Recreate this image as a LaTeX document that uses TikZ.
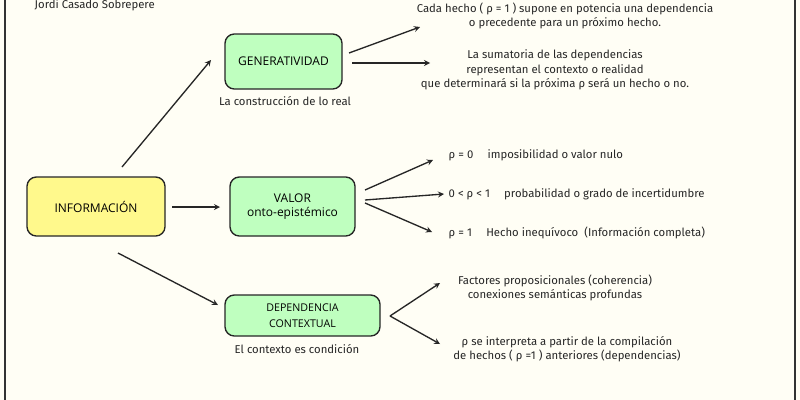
\documentclass[tikz,border=0pt]{standalone}
\usepackage{fontspec}
\setmainfont{Fira Sans}
\newfontfamily\boxfont{Open Sans}
\begin{document}
\begin{tikzpicture}[x=0.75pt,y=-0.75pt,
 box/.style={draw=black!85,line width=1pt,rounded corners=7pt,font=\boxfont\fontsize{9}{11}\selectfont,align=center,inner sep=0pt},
 note/.style={font=\fontsize{8.5}{11}\selectfont,align=center,text=black!85},
 arr/.style={->,>=stealth,line width=1pt,black!85}]
\fill[yellow!4!white] (0,0) rectangle (800,400);
\useasboundingbox (0,0) rectangle (800,400);
\draw[black!80,line width=1pt] (5,-5) -- (5,405) (795,-5) -- (795,405);
\node[note,anchor=west] (t) at (30,5) {Jordi Casado Sobrepere};
\node[box,fill=green!25!white,minimum width=87.75pt,minimum height=41.25pt] (g) at (283.5,61.5) {GENERATIVIDAD};
\node[note] (gl) at (285,101) {La construcción de lo real};
\node[box,fill=yellow!45!white,minimum width=103.5pt,minimum height=44.25pt] (i) at (96,206.5) {INFORMACIÓN};
\node[box,fill=green!25!white,minimum width=93.75pt,minimum height=44.25pt] (v) at (292.5,206.5) {VALOR\\onto-epistémico};
\node[box,fill=green!25!white,minimum width=116.25pt,minimum height=30.75pt,font=\boxfont\fontsize{8}{12}\selectfont] (d) at (302.5,315.5) {DEPENDENCIA\\CONTEXTUAL};
\node[note] (dl) at (297,349) {El contexto es condición};
\node[note] (n1) at (565,16) {Cada hecho ( ρ = 1 ) supone en potencia una dependencia\\o precedente para un próximo hecho.};
\node[note] (n2) at (555,70) {La sumatoria de las dependencias\\representan el contexto o realidad\\que determinará si la próxima ρ será un hecho o no.};
\node[note,anchor=west] (v1) at (444,155) {ρ = 0 \quad imposibilidad o valor nulo};
\node[note,anchor=west] (v2) at (444,194) {0 < ρ < 1 \quad probabilidad o grado de incertidumbre};
\node[note,anchor=west] (v3) at (444,233) {ρ = 1 \quad Hecho inequívoco \ (Información completa)};
\node[note] (d1) at (555,288) {Factores proposicionales (coherencia)\\conexiones semánticas profundas};
\node[note] (d2) at (567,349) {ρ se interpreta a partir de la compilación\\de hechos ( ρ =1 ) anteriores (dependencias)};
\coordinate (ia) at (122,167); \coordinate (ib) at (172,207); \coordinate (ic) at (118,253);
\draw[arr] (ia) -- (211,60);
\draw[arr] (ib) -- (220,207);
\draw[arr] (ic) -- (218,305);
\draw[arr] (349,53) -- (420,27);
\draw[arr] (352,63) -- (430,63);
\draw[arr] (365,190) -- (433,160);
\draw[arr] (365,200) -- (v2.west);
\draw[arr] (365,203) -- (432,232);
\draw[arr] (390,316) -- (440,283);
\draw[arr] (390,316) -- (440,344);
\end{tikzpicture}
\end{document}
